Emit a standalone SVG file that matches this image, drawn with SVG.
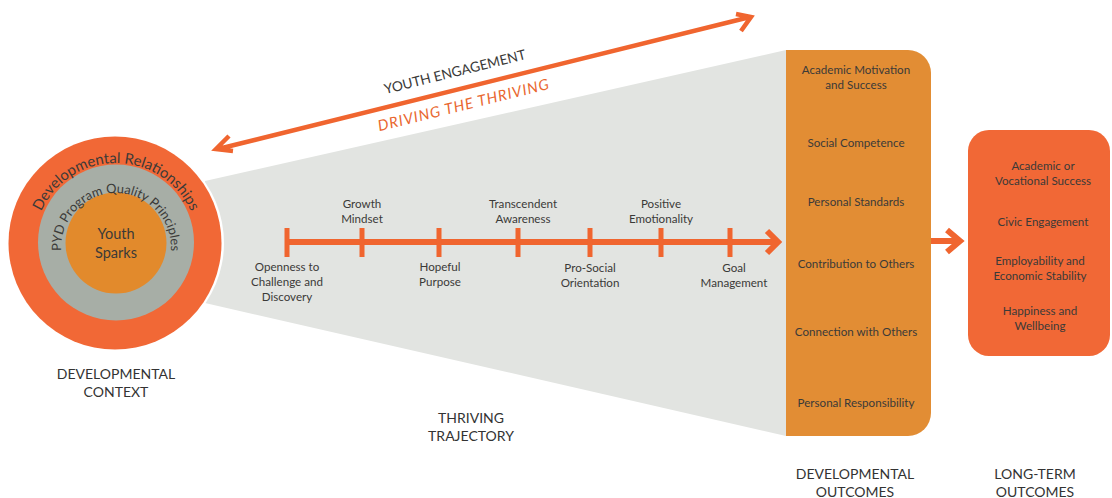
<svg xmlns="http://www.w3.org/2000/svg" width="1112" height="498" viewBox="0 0 1112 498">
<style>
text{font-family:"Lato","Open Sans","Liberation Sans",sans-serif;fill:#3b3a38;text-anchor:middle}
.s{font-size:11.6px}
.h{font-size:14px;fill:#333}
.c{fill:none;stroke:#f0652f;stroke-linecap:butt}
</style>
<defs>
<path id="arc1" d="M116 327A82 82 0 1 1 116 163A82 82 0 1 1 116 327"/>
<path id="arc2" d="M116 303A55 55 0 1 1 116 193A55 55 0 1 1 116 303"/>
</defs>
<g id="trajectory-fan"><polygon points="205,181 786,50 786,436 205,303" fill="#e2e4e1"/>
<text class="h" x="471" y="423">THRIVING</text><text class="h" x="471" y="441">TRAJECTORY</text></g>
<g id="developmental-context">
<circle cx="117" cy="243" r="107" fill="#fff"/>
<circle cx="115" cy="243" r="106.500" fill="#f16836"/>
<circle cx="116" cy="242.500" r="78" fill="#a7aea6"/>
<circle cx="116" cy="243" r="50.500" fill="#e28a2c"/>
<text font-size="14.800"><textPath href="#arc1" startOffset="50%">Developmental Relationships</textPath></text>
<text font-size="12.900"><textPath href="#arc2" startOffset="50%">PYD Program Quality Principles</textPath></text>
<text font-size="14.500" x="116" y="239">Youth</text><text font-size="14.500" x="116" y="258">Sparks</text>
<text class="h" x="116" y="379">DEVELOPMENTAL</text><text class="h" x="116" y="397">CONTEXT</text>
</g>
<g id="developmental-outcomes">
<path d="M786 50H908a23 23 0 0 1 23 23V413a23 23 0 0 1-23 23H786Z" fill="#e28d34"/>
<text class="s" x="856" y="74">Academic Motivation</text><text class="s" x="856" y="89">and Success</text>
<text class="s" x="856" y="147">Social Competence</text>
<text class="s" x="856" y="206">Personal Standards</text>
<text class="s" x="856" y="268">Contribution to Others</text>
<text class="s" x="856" y="336">Connection with Others</text>
<text class="s" x="856" y="407">Personal Responsibility</text>
<text class="h" x="855" y="479">DEVELOPMENTAL</text><text class="h" x="855" y="497">OUTCOMES</text>
</g>
<g id="long-term-outcomes">
<rect x="968" y="130" width="142" height="226" rx="21" fill="#f16836"/>
<text class="s" x="1043" y="170">Academic or</text><text class="s" x="1043" y="185">Vocational Success</text>
<text class="s" x="1043" y="226">Civic Engagement</text>
<text class="s" x="1040" y="265">Employability and</text><text class="s" x="1040" y="280">Economic Stability</text>
<text class="s" x="1040" y="315">Happiness and</text><text class="s" x="1040" y="330">Wellbeing</text>
<text class="h" x="1035" y="479">LONG-TERM</text><text class="h" x="1035" y="497">OUTCOMES</text>
</g>
<g id="connectors">
<path class="c" stroke-width="4.500" d="M218 149L750 17M229 136L216 149L233 151M736 14L751 17L741 31" />
<path class="c" stroke-width="6" d="M287 242H778M767 231L778 242L767 253"/>
<path class="c" stroke-width="5" d="M287 228V257M362 228V257M439 228V257M518 228V257M590 228V257M661 228V257M730 228V257"/>
<path class="c" stroke-width="6" d="M931 241H960M947 230L960 241L947 252"/>
</g>
<g id="youth-engagement-label">
<text font-size="13.700" fill="#2f2f2f" transform="translate(456 76.500) rotate(-14)">YOUTH ENGAGEMENT</text>
<text font-size="15" font-style="italic" letter-spacing="1" style="fill:#e9672f" transform="translate(465 110) rotate(-14)">DRIVING THE THRIVING</text>
</g>
<g id="trajectory-labels">
<text class="s" x="362" y="208">Growth</text><text class="s" x="362" y="223">Mindset</text>
<text class="s" x="523" y="208">Transcendent</text><text class="s" x="523" y="223">Awareness</text>
<text class="s" x="661" y="208">Positive</text><text class="s" x="661" y="223">Emotionality</text>
<text class="s" x="287" y="271">Openness to</text><text class="s" x="287" y="286">Challenge and</text><text class="s" x="287" y="301">Discovery</text>
<text class="s" x="440" y="271">Hopeful</text><text class="s" x="440" y="286">Purpose</text>
<text class="s" x="590" y="272">Pro-Social</text><text class="s" x="590" y="287">Orientation</text>
<text class="s" x="734" y="272">Goal</text><text class="s" x="734" y="287">Management</text>
</g>
</svg>
